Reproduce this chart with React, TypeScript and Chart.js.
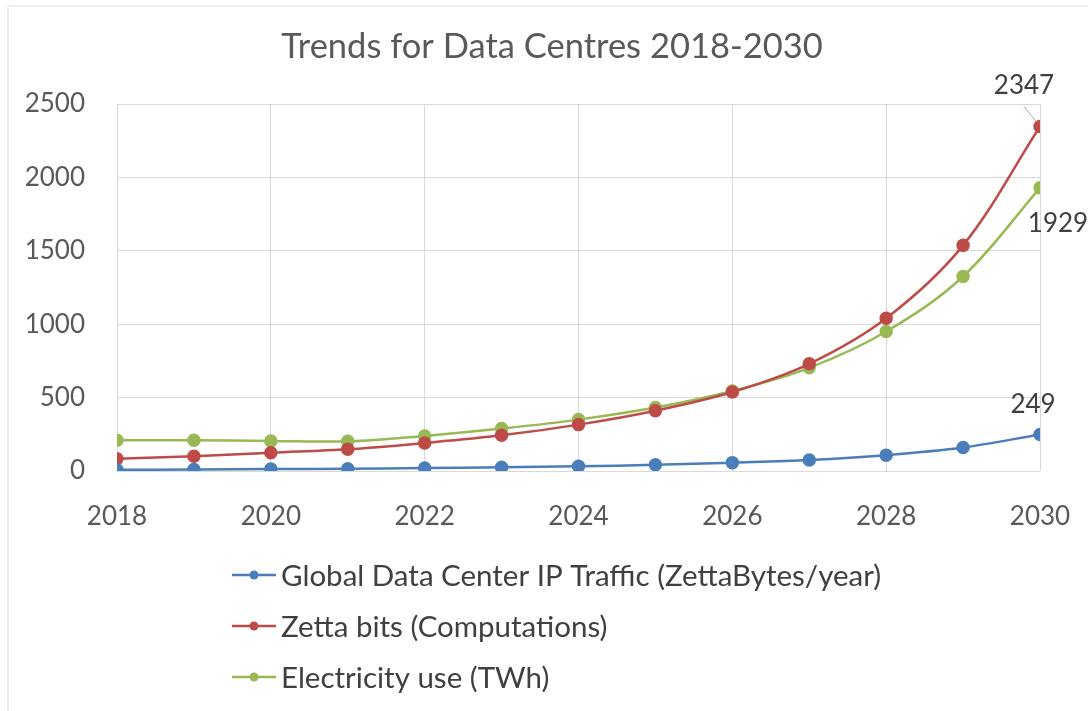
import React, { useEffect, useRef } from "react";
import { Chart, registerables } from "chart.js";

Chart.register(...registerables);

const years = [2018, 2019, 2020, 2021, 2022, 2023, 2024, 2025, 2026, 2027, 2028, 2029, 2030];
const ipTraffic = [8, 10, 13, 16, 20, 25, 32, 42, 57, 75, 108, 160, 249];
const zettaBits = [84, 100, 125, 148, 191, 243, 316, 411, 538, 730, 1040, 1537, 2347];
const electricity = [209, 209, 205, 202, 239, 289, 350, 432, 545, 703, 950, 1325, 1929];
const seriesNames = [
  "Global Data Center IP Traffic (ZettaBytes/year)",
  "Zetta bits (Computations)",
  "Electricity use (TWh)",
];
const seriesColors = ["#4A7EBB", "#BE4B48", "#98B954"];
const yTicks = [0, 500, 1000, 1500, 2000, 2500];
const xTicks = [2018, 2020, 2022, 2024, 2026, 2028, 2030];
const titleText = "Trends for Data Centres 2018-2030";

const FONT = "Lato, 'Open Sans', sans-serif";

const toPoints = (vals: number[]) => years.map((x, i) => ({ x, y: vals[i] }));

const titlePlugin = {
  id: "offsetTitle",
  afterDraw(chart: any) {
    const { ctx } = chart;
    ctx.save();
    ctx.font = `34.5px ${FONT}`;
    ctx.fillStyle = "#595959";
    ctx.textAlign = "center";
    ctx.textBaseline = "middle";
    ctx.fillText(titleText, 552, 47);
    ctx.restore();
  },
};

const endLabels = {
  id: "endLabels",
  afterDatasetsDraw(chart: any) {
    const { ctx } = chart;
    const xs = chart.scales.x;
    const ys = chart.scales.y;
    const last = years.length - 1;
    const px = xs.getPixelForValue(years[last]);
    ctx.save();
    ctx.font = `26px ${FONT}`;
    ctx.fillStyle = "#404040";
    ctx.textAlign = "center";
    ctx.textBaseline = "middle";
    const ry = ys.getPixelForValue(zettaBits[last]);
    ctx.fillText(String(zettaBits[last]), px - 16, ry - 41);
    ctx.strokeStyle = "#a6a6a6";
    ctx.lineWidth = 1;
    ctx.beginPath();
    ctx.moveTo(px - 16, ry - 20);
    ctx.lineTo(px - 4, ry - 5);
    ctx.stroke();
    const gy = ys.getPixelForValue(electricity[last]);
    ctx.fillText(String(electricity[last]), px + 18, gy + 36);
    const by = ys.getPixelForValue(ipTraffic[last]);
    ctx.fillText(String(ipTraffic[last]), px - 7, by - 30);
    ctx.restore();
  },
};

const legendPlugin = {
  id: "vLegend",
  afterDraw(chart: any) {
    const { ctx } = chart;
    ctx.save();
    ctx.font = `29.5px ${FONT}`;
    ctx.textBaseline = "middle";
    ctx.textAlign = "left";
    const rowY = [575, 626, 677];
    chart.data.datasets.forEach((ds: any, i: number) => {
      const y = rowY[i];
      ctx.strokeStyle = ds.borderColor;
      ctx.lineWidth = 2.5;
      ctx.beginPath();
      ctx.moveTo(232, y);
      ctx.lineTo(276, y);
      ctx.stroke();
      ctx.fillStyle = ds.backgroundColor;
      ctx.beginPath();
      ctx.arc(254, y, 4.5, 0, Math.PI * 2);
      ctx.fill();
      ctx.fillStyle = "#404040";
      ctx.fillText(ds.label, 281, y + 1);
    });
    ctx.strokeStyle = "#f0f0f0";
    ctx.lineWidth = 2;
    ctx.strokeRect(8, 6, 1100, 720);
    ctx.restore();
  },
};

export default function App() {
  const ref = useRef<HTMLCanvasElement | null>(null);
  useEffect(() => {
    document.body.style.margin = "0";
    const canvas = ref.current!;
    const datasets = [ipTraffic, zettaBits, electricity].map((vals, i) => ({
      label: seriesNames[i],
      data: toPoints(vals),
      borderColor: seriesColors[i],
      backgroundColor: seriesColors[i],
      pointBackgroundColor: seriesColors[i],
      pointBorderColor: seriesColors[i],
      pointRadius: 5.5,
      borderWidth: 2.5,
      tension: 0.35,
      fill: false,
    }));
    const chart = new Chart(canvas, {
      type: "line",
      data: { datasets: datasets as any },
      options: {
        responsive: false,
        animation: false,
        layout: { padding: { left: 0, right: 48, top: 104, bottom: 180 } },
        plugins: {
          legend: { display: false },
          tooltip: { enabled: false },
          title: { display: false },
        },
        scales: {
          x: {
            type: "linear",
            min: years[0],
            max: years[years.length - 1],
            afterBuildTicks: (scale: any) => {
              scale.ticks = xTicks.map((v) => ({ value: v }));
            },
            afterFit: (scale: any) => {
              scale.height = 60;
              scale.paddingLeft = 0;
              scale.paddingRight = 0;
            },
            grid: { color: "#d9d9d9", lineWidth: 1, drawTicks: false },
            border: { display: false },
            ticks: {
              color: "#595959",
              font: { family: FONT, size: 26 },
              padding: 30,
              maxRotation: 0,
              callback: (v: any) => String(v),
            },
          },
          y: {
            min: 0,
            max: 2500,
            afterBuildTicks: (scale: any) => {
              scale.ticks = yTicks.map((v) => ({ value: v }));
            },
            afterFit: (scale: any) => {
              scale.width = 117;
              scale.paddingTop = 0;
              scale.paddingBottom = 0;
            },
            grid: { color: "#d9d9d9", lineWidth: 1, drawTicks: false },
            border: { display: false },
            ticks: {
              color: "#595959",
              font: { family: FONT, size: 26 },
              padding: 32,
              callback: (v: any) => String(v),
            },
          },
        },
      },
      plugins: [endLabels, legendPlugin, titlePlugin],
    });
    return () => chart.destroy();
  }, []);
  return <canvas ref={ref} width={1088} height={711} style={{ display: "block" }} />;
}
